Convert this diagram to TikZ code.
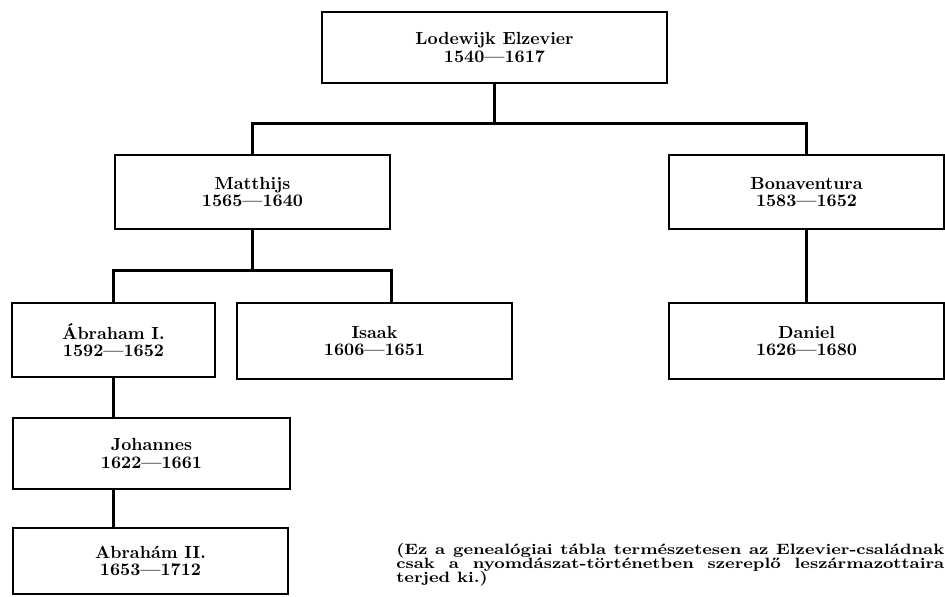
\documentclass[tikz,border=0pt]{standalone}
\usepackage{tikz}
\tikzset{
    person/.style={
           rectangle,
           draw=black, line width=1.6pt,
           inner sep=2pt,
           align=center,
           font=\fontsize{10}{9.8}\selectfont\bfseries,
           },
}
\tikzset{
    link/.style={
           draw=black, line width=1.6pt,
           },
}
\tikzset{
    note/.style={
           inner sep=0pt,
           anchor=base west,
           font=\fontsize{8.5}{8}\selectfont\bfseries,
           },
}

\begin{document}
\begin{tikzpicture}[x=0.02cm,y=-0.02cm]
\clip (0,0) rectangle (945,597);
% the family
\node[person,minimum width=6.9cm,minimum height=1.42cm](lodewijk) at (494.5,47.5){Lodewijk Elzevier\\1540---1617};
\node[person,minimum width=5.5cm,minimum height=1.48cm](matthijs) at (252.5,192){Matthijs\\1565---1640};
\node[person,minimum width=5.5cm,minimum height=1.48cm](bonaventura) at (806.5,192){Bonaventura\\1583---1652};
\node[person,minimum width=4.06cm,minimum height=1.48cm](abraham1) at (113.5,340){Ábraham I.\\1592---1652};
\node[person,minimum width=5.5cm,minimum height=1.52cm](isaak) at (374.5,341){Isaak\\1606---1651};
\node[person,minimum width=5.5cm,minimum height=1.52cm](daniel) at (806.5,341){Daniel\\1626---1680};
\node[person,minimum width=5.54cm,minimum height=1.42cm](johannes) at (151.5,453.5){Johannes\\1622---1661};
\node[person,minimum width=5.5cm,minimum height=1.32cm](abraham2) at (150.5,561){Abrahám II.\\1653---1712};

% lines of descent
\draw[link] (lodewijk.south) -- ++(0,39) coordinate (fork1);
\draw[link] (matthijs.north) |- (fork1) -| (bonaventura.north);
\draw[link] (matthijs.south) -- ++(0,40) coordinate (fork2);
\draw[link] (abraham1.north -| matthijs.west) |- (fork2) -| (isaak.north -| matthijs.east);
\draw[link] (bonaventura.south) -- (daniel.north);
\draw[link] (abraham1.south) -- (johannes.north -| abraham1.south);
\draw[link] (johannes.south -| abraham1.south) -- (abraham2.north -| abraham1.south);

% remark
\node[note](note1) at (396,554){\scalebox{1.18}[1]{\makebox[9.29cm][s]{(Ez a genealógiai tábla természetesen az Elzevier-családnak}}};
\node[note](note2) at (396,568){\scalebox{1.18}[1]{\makebox[9.29cm][s]{csak a nyomdászat-történetben szereplő leszármazottaira}}};
\node[note](note3) at (396,582){\scalebox{1.18}[1]{terjed ki.)}};
\end{tikzpicture}
\end{document}
